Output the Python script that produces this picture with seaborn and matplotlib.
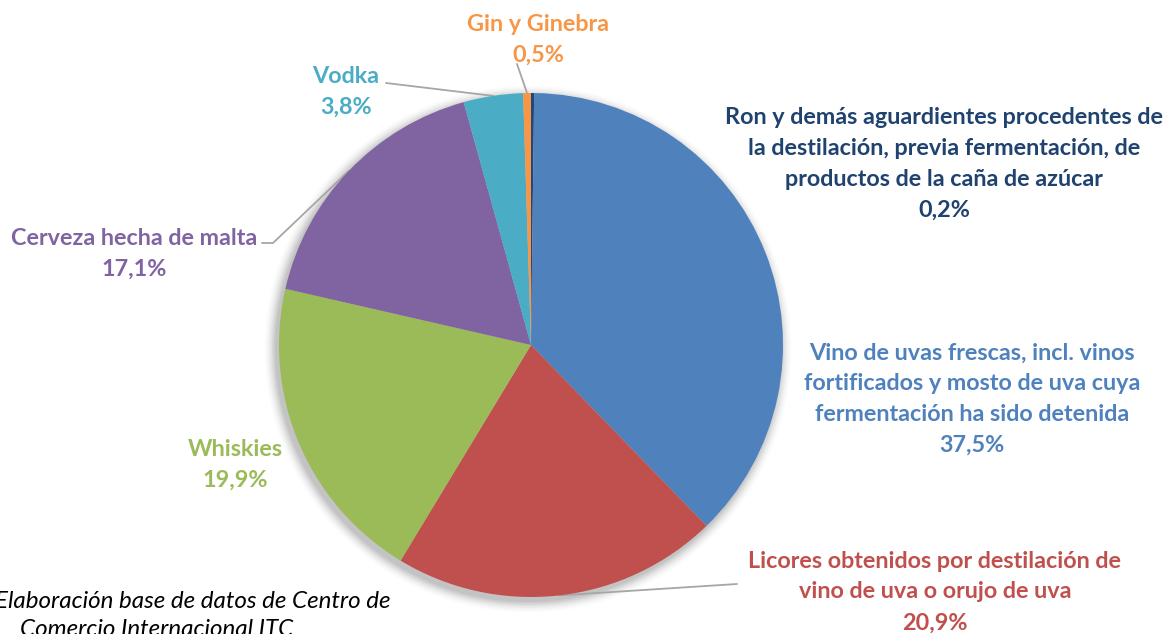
import numpy as np
import seaborn as sns
import matplotlib.pyplot as plt

categories = [
    "Ron y demás aguardientes procedentes de\nla destilación, previa fermentación, de\nproductos de la caña de azúcar",
    "Vino de uvas frescas, incl. vinos\nfortificados y mosto de uva cuya\nfermentación ha sido detenida",
    "Licores obtenidos por destilación de\nvino de uva o orujo de uva",
    "Whiskies",
    "Cerveza hecha de malta",
    "Vodka",
    "Gin y Ginebra",
]
shares = [0.2, 37.5, 20.9, 19.9, 17.1, 3.8, 0.5]
pct_labels = ["0,2%", "37,5%", "20,9%", "19,9%", "17,1%", "3,8%", "0,5%"]
colors = ["#1F497D", "#4F81BD", "#C0504D", "#9BBB59", "#8064A2", "#4BACC6", "#F79646"]
text_colors = ["#1F426F", "#4F81BD", "#C0504D", "#9BBB59", "#8064A2", "#4BACC6", "#F79646"]

W, H = 1168, 634
sns.set_theme(style="white")
plt.rcParams["font.family"] = ["Lato", "DejaVu Sans"]

fig = plt.figure(figsize=(W / 100, H / 100), dpi=100)
ax = fig.add_axes([0, 0, 1, 1])

cx, cy, r = 531, H - 345, 252

# soft shadow
for i, a in enumerate(np.linspace(0.05, 0.012, 8)):
    ax.add_patch(plt.Circle((cx - 3, cy - 4), r + 1 + i * 1.5, color="black", alpha=a, lw=0, zorder=0))

wedges, _ = ax.pie(shares, colors=colors, startangle=90, counterclock=False,
                   center=(cx, cy), radius=r, wedgeprops=dict(linewidth=0))
for w in wedges:
    w.set_zorder(2)

ax.set_xlim(0, W)
ax.set_ylim(0, H)
ax.set_aspect("equal")
ax.axis("off")

# label positions (pixel coords from top-left)
label_pos = [(944, 164), (972, 399), (935, 592), (235, 465), (134, 254), (346, 92), (538, 40)]
fs = 16.8
for i, (x, y) in enumerate(label_pos):
    ax.text(x, H - y, categories[i] + "\n" + pct_labels[i], ha="center", va="center",
            fontsize=fs, fontweight="bold", color=text_colors[i], linespacing=1.58, zorder=3)

# leader lines from wedge midpoints
def mid_point(w, rr):
    th = np.deg2rad((w.theta1 + w.theta2) / 2)
    return cx + rr * np.cos(th), cy + rr * np.sin(th)

lc = "#A6A6A6"
px, py = mid_point(wedges[2], r)
ax.plot([px, 737], [py, H - 584], color=lc, lw=1.3, zorder=1)
px, py = mid_point(wedges[4], r)
ax.plot([262, 273, px], [H - 243, H - 243, py], color=lc, lw=1.3, zorder=1)
px, py = mid_point(wedges[5], r)
ax.plot([386, px], [H - 83, py], color=lc, lw=1.3, zorder=1)
px, py = mid_point(wedges[6], r)
ax.plot([517, px], [H - 64, py], color=lc, lw=1.3, zorder=1)

ax.text(-5, H - 602, "Elaboración base de datos de Centro de", ha="left", va="center",
        fontsize=17.4, fontstyle="italic", color="black")
ax.text(20, H - 630, "Comercio Internacional ITC", ha="left", va="center",
        fontsize=17.4, fontstyle="italic", color="black")

fig.savefig("out.png", dpi=100)
